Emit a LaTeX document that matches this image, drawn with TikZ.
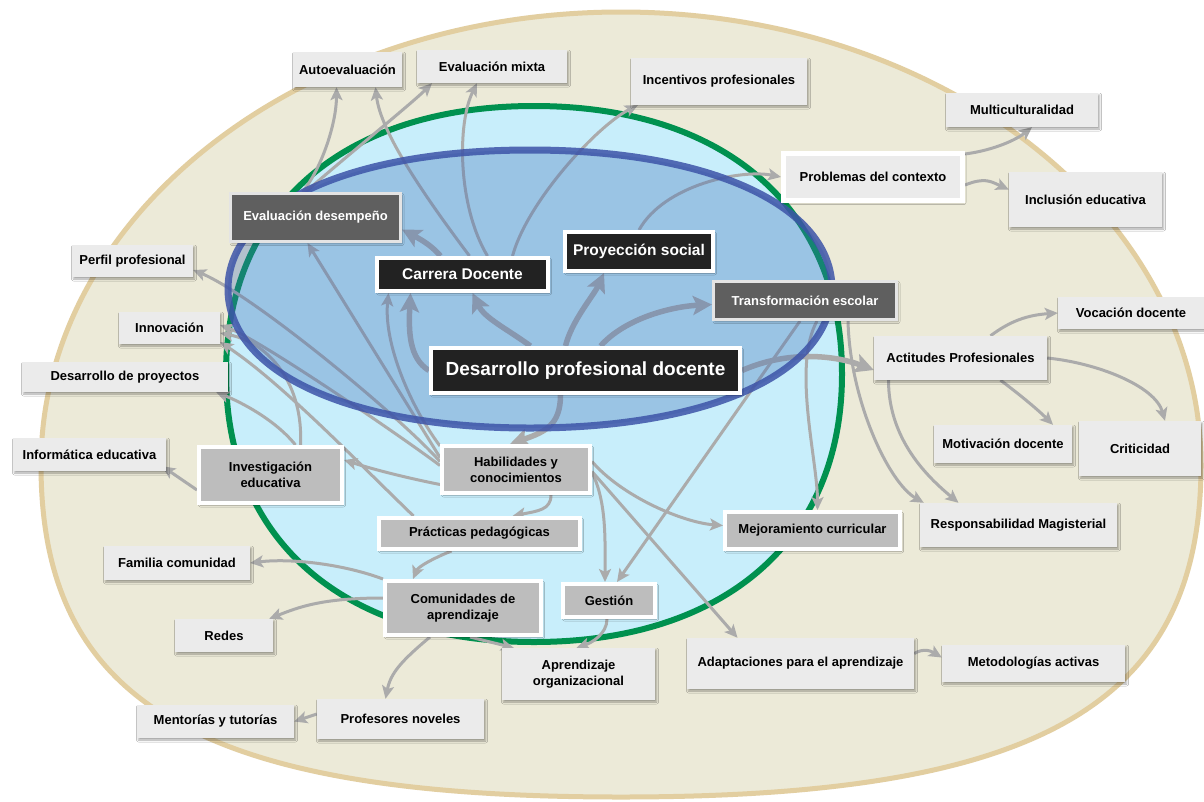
\documentclass[tikz,border=0pt]{standalone}
\usepackage{fontspec}
\setmainfont{Liberation Sans}
\usetikzlibrary{arrows.meta,shadows.blur}

\definecolor{sand}{HTML}{ECEAD8}
\definecolor{sandrim}{HTML}{E2CEA0}
\definecolor{sky}{HTML}{C8EEFB}
\definecolor{leaf}{HTML}{00914F}
\definecolor{tintblue}{HTML}{3F6FB8}
\definecolor{rimblue}{HTML}{3D54A8}
\definecolor{linkgray}{HTML}{ABABAB}
\definecolor{boxlight}{HTML}{EBEBEB}
\definecolor{boxgray}{HTML}{BDBDBD}
\definecolor{boxdark}{HTML}{5F5F5F}
\definecolor{boxrim}{HTML}{E4E4E4}
\definecolor{boxblack}{HTML}{222222}

\pgfdeclarelayer{ground}
\pgfdeclarelayer{links}
\pgfdeclarelayer{tint}
\pgfsetlayers{ground,links,tint,main}

\tikzset{
  wh/.style 2 args={minimum width=#1pt, minimum height=#2pt},
  card/.style={rectangle, inner sep=0pt, align=center,
    font=\fontsize{13}{16}\selectfont\bfseries,
    blur shadow={shadow xshift=1.5pt, shadow yshift=-2pt, shadow blur radius=2pt, shadow opacity=35}},
  lightbox/.style={card, fill=boxlight, text=black},
  framedbox/.style={card, fill=boxlight, draw=white, line width=5pt, text=black},
  graybox/.style={card, fill=boxgray, draw=white, line width=4pt, text=black},
  darkbox/.style={card, fill=boxdark, draw=boxrim, line width=3pt, text=white},
  blackbox/.style={card, fill=boxblack, draw=white, line width=4pt, text=white,
    font=\fontsize{15.5}{18}\selectfont\bfseries},
  arrowline/.style={draw=linkgray, line width=3pt, -{Stealth[length=13pt, width=12pt, inset=3pt]}},
  bigarrow/.style={draw=linkgray, line width=5.5pt, -{Stealth[length=19pt, width=19pt, inset=4pt]}},
}

\begin{document}
\begin{tikzpicture}[x=1pt,y=-1pt]
\useasboundingbox (0,0) rectangle (1204,801);

\node[blackbox, wh={309}{45}, font=\fontsize{19}{22}\selectfont\bfseries] (desarrollo) at (585.5,370.5) {Desarrollo profesional docente};
\node[blackbox, wh={171}{33}] (carrera) at (462.5,274.5) {Carrera Docente};
\node[blackbox, wh={148}{39}] (proyeccion) at (639,251.5) {Proyección social};
\node[darkbox, wh={170}{48}] (evaldes) at (315.5,217.5) {Evaluación desempeño};
\node[darkbox, wh={183}{38}] (transf) at (805,300.5) {Transformación escolar};

\node[graybox, wh={143}{56}] (invest) at (270.5,475) {Investigación\\educativa};
\node[graybox, wh={148}{47}] (habil) at (516,469.5) {Habilidades y\\conocimientos};
\node[graybox, wh={201}{31}] (practicas) at (479.5,533.5) {Prácticas pedagógicas};
\node[graybox, wh={175}{37}] (mejora) at (812.5,530.5) {Mejoramiento curricular};
\node[graybox, wh={156}{54}] (comun) at (463,608) {Comunidades de\\aprendizaje};
\node[graybox, wh={92}{33}] (gestion) at (609,600.5) {Gestión};
\node[framedbox, wh={179}{47}] (problemas) at (873,177) {Problemas del contexto};

\node[lightbox, wh={109}{35}] (auto) at (347.5,69.5) {Autoevaluación};
\node[lightbox, wh={150}{33}] (mixta) at (492,66.5) {Evaluación mixta};
\node[lightbox, wh={176}{47}] (incent) at (719,81.5) {Incentivos profesionales};
\node[lightbox, wh={152}{34}] (multi) at (1022,110) {Multiculturalidad};
\node[lightbox, wh={153}{55}] (inclusion) at (1085.5,199.5) {Inclusión educativa};
\node[lightbox, wh={121}{32}] (perfil) at (132.5,261) {Perfil profesional};
\node[lightbox, wh={101}{32}] (innov) at (169.5,328) {Innovación};
\node[lightbox, wh={206}{30}] (proyectos) at (125,377) {Desarrollo de proyectos};
\node[lightbox, wh={153}{33}] (informatica) at (89.5,454.5) {Informática educativa};
\node[lightbox, wh={146}{34}] (familia) at (177,563) {Familia comunidad};
\node[lightbox, wh={98}{33}] (redes) at (224,635.5) {Redes};
\node[lightbox, wh={153}{52}] (aprorg) at (578.5,674) {Aprendizaje\\organizacional};
\node[lightbox, wh={167}{40}] (profnov) at (400.5,719) {Profesores noveles};
\node[lightbox, wh={157}{33}] (mentorias) at (215.5,721.5) {Mentorías y tutorías};
\node[lightbox, wh={227}{51}] (adapt) at (800.5,663.5) {Adaptaciones para el aprendizaje};
\node[lightbox, wh={183}{37}] (metod) at (1033.5,663.5) {Metodologías activas};
\node[lightbox, wh={146}{32}] (vocacion) at (1131,313) {Vocación docente};
\node[lightbox, wh={173}{44}] (actitudes) at (960.5,358) {Actitudes Profesionales};
\node[lightbox, wh={138}{38}] (motivacion) at (1003,444) {Motivación docente};
\node[lightbox, wh={122}{55}] (criticidad) at (1140,448.5) {Criticidad};
\node[lightbox, wh={197}{44}] (respons) at (1018.5,525) {Responsabilidad Magisterial};

\begin{pgfonlayer}{ground}
\fill[white] (0,0) rectangle (1204,801);
\filldraw[fill=sand, draw=sandrim, line width=5pt] (1201,465) .. controls (1201,215) and (941,12) .. (621,12)
  .. controls (301,12) and (41,215) .. (41,465) .. controls (41,705) and (203,797) .. (621,797)
  .. controls (1039,797) and (1201,705) .. cycle;
\filldraw[fill=sky, draw=leaf, line width=6pt] (842,374) .. controls (842,208) and (725,106) .. (534,106)
  .. controls (343,106) and (226,208) .. (226,374) .. controls (226,540) and (343,642) .. (534,642)
  .. controls (725,642) and (842,540) .. cycle;
\end{pgfonlayer}

\begin{pgfonlayer}{tint}
\fill[tintblue, fill opacity=0.33] (832,289) .. controls (832,206) and (711,150) .. (530,150)
  .. controls (349,150) and (228,206) .. (228,289) .. controls (228,372) and (349,428) .. (530,428)
  .. controls (711,428) and (832,372) .. cycle;
\draw[rimblue, draw opacity=0.85, line width=7pt] (832,289) .. controls (832,206) and (711,150) .. (530,150)
  .. controls (349,150) and (228,206) .. (228,289) .. controls (228,372) and (349,428) .. (530,428)
  .. controls (711,428) and (832,372) .. cycle;
\end{pgfonlayer}

\begin{pgfonlayer}{links}
\draw[bigarrow] (desarrollo.west) .. controls +(-20,-12) and +(-2,38) .. ([xshift=-52pt]carrera.south);
\draw[bigarrow] ([xshift=-55pt]desarrollo.north) .. controls +(-25,-18) and +(12,25) .. ([xshift=10pt]carrera.south);
\draw[bigarrow] ([xshift=-20pt]desarrollo.north) .. controls +(6,-25) and +(-10,22) .. ([xshift=-35pt]proyeccion.south);
\draw[bigarrow] ([xshift=15pt]desarrollo.north) .. controls +(25,-28) and +(-40,2) .. ([yshift=-4pt]transf.west);
\draw[bigarrow] ([xshift=-22pt]carrera.north) .. controls +(-10,-12) and +(15,8) .. ([yshift=-12pt]evaldes.east);
\draw[bigarrow] (desarrollo.east) .. controls +(45,-20) and +(-40,-15) .. ([yshift=-12pt]actitudes.west);
\draw[bigarrow] ([xshift=-25pt]desarrollo.south) .. controls +(0,30) and +(35,-12) .. ([xshift=-6pt]habil.north);

\draw[arrowline] ([xshift=7pt]carrera.north) .. controls +(-45,-60) and +(5,45) .. ([xshift=28pt]auto.south);
\draw[arrowline] ([xshift=25pt]carrera.north) .. controls +(-30,-50) and +(-20,40) .. ([xshift=-15pt]mixta.south);
\draw[arrowline] ([xshift=50pt]carrera.north) .. controls +(15,-55) and +(-40,20) .. ([xshift=7pt]incent.south west);
\draw[arrowline] ([xshift=-13pt]evaldes.north) .. controls +(20,-25) and +(0,35) .. ([xshift=-11pt]auto.south);
\draw[arrowline] ([xshift=-10pt]evaldes.north) .. controls +(40,-35) and +(-20,20) .. ([xshift=-60pt]mixta.south);
\draw[arrowline] (proyeccion.north) .. controls +(25,-45) and +(-40,-8) .. (problemas.west);
\draw[arrowline] ([yshift=-3pt]problemas.north east) .. controls +(30,-4) and +(-15,12) .. ([xshift=10pt]multi.south);
\draw[arrowline] ([yshift=-8pt]problemas.east) .. controls +(20,-8) and +(-18,-8) .. ([yshift=10pt]inclusion.west);
\draw[arrowline] ([xshift=-5pt]transf.south) -- ([xshift=8pt]gestion.north);
\draw[arrowline] ([xshift=12pt]transf.south) .. controls +(-25,45) and +(0,-50) .. ([xshift=5pt]mejora.north);
\draw[arrowline] ([xshift=43pt]transf.south) .. controls +(2,80) and +(-35,-20) .. ([xshift=4pt]respons.north west);
\draw[arrowline] ([xshift=30pt]actitudes.north) .. controls +(20,-15) and +(-30,2) .. (vocacion.west);
\draw[arrowline] ([xshift=40pt]actitudes.south) .. controls +(20,15) and +(-15,-15) .. ([xshift=50pt]motivacion.north);
\draw[arrowline] (actitudes.east) .. controls +(50,5) and +(-10,-35) .. ([xshift=25pt]criticidad.north);
\draw[arrowline] ([xshift=-72pt]actitudes.south) .. controls +(0,60) and +(-30,-25) .. ([xshift=-60pt]respons.north);
\draw[arrowline] ([yshift=-15pt]habil.west) .. controls +(-40,-8) and +(25,8) .. ([yshift=15pt]invest.east);
\draw[arrowline] ([yshift=12pt]habil.west) -- ([xshift=-8pt]evaldes.south);
\draw[arrowline] ([yshift=-2pt]habil.north west) .. controls +(-30,-40) and +(-5,50) .. ([xshift=-74pt]carrera.south);
\draw[arrowline] ([yshift=8pt]habil.west) .. controls +(-40,-45) and +(60,25) .. ([yshift=-9pt]perfil.east);
\draw[arrowline] ([yshift=4pt]habil.west) .. controls +(-40,-30) and +(40,15) .. ([yshift=3pt]innov.east);
\draw[arrowline] ([xshift=-66pt]practicas.north) .. controls +(-64,-62) and +(60,40) .. ([yshift=-14pt]innov.east);
\draw[arrowline] ([xshift=30pt]invest.north) .. controls +(3,-60) and +(50,10) .. ([yshift=-5pt]innov.east);
\draw[arrowline] ([xshift=25pt]invest.north) .. controls +(-20,-25) and +(25,10) .. ([xshift=-12pt]proyectos.south east);
\draw[arrowline] ([yshift=-15pt]invest.west) -- ([xshift=-4pt,yshift=5pt]informatica.south east);
\draw[arrowline] ([xshift=35pt]habil.south) .. controls +(0,15) and +(25,-5) .. ([xshift=33pt]practicas.north);
\draw[arrowline] ([xshift=-28pt]practicas.south) .. controls +(-20,8) and +(5,-12) .. ([xshift=-50pt]comun.north);
\draw[arrowline] ([yshift=-3pt]habil.east) .. controls +(15,30) and +(0,-40) .. ([xshift=-4pt]gestion.north);
\draw[arrowline] ([yshift=8pt]habil.east) .. controls +(30,35) and +(-40,-3) .. ([yshift=5pt]mejora.west);
\draw[arrowline] ([yshift=-2pt]habil.east) -- ([xshift=-63pt]adapt.north);
\draw[arrowline] ([xshift=-2pt]gestion.south) .. controls +(0,15) and +(15,-5) .. ([xshift=-2pt]aprorg.north);
\draw[arrowline] ([xshift=7pt]comun.south) -- ([xshift=12pt]aprorg.north west);
\draw[arrowline] (comun.north west) .. controls +(-40,-15) and +(40,-5) .. (familia.east);
\draw[arrowline] ([yshift=10pt]comun.west) .. controls +(-60,0) and +(30,-12) .. ([xshift=-4pt]redes.north east);
\draw[arrowline] ([xshift=-33pt]comun.south) .. controls +(-30,25) and +(5,-25) .. ([xshift=-15pt]profnov.north);
\draw[arrowline] ([yshift=5pt]profnov.west) -- (mentorias.east);
\draw[arrowline] ([yshift=10pt]adapt.east) .. controls +(10,-6) and +(-10,-6) .. ([yshift=6pt]metod.west);
\end{pgfonlayer}
\end{tikzpicture}
\end{document}
